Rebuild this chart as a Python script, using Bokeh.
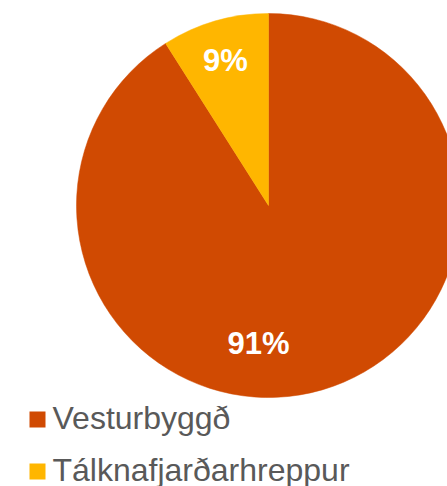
import math
from bokeh.plotting import figure
from bokeh.models import Range1d, ColumnDataSource
from bokeh.core.properties import value
from bokeh.embed import file_html
from bokeh.resources import INLINE

# ---- data ----
categories = ["Vesturbyggð", "Tálknafjarðarhreppur"]
shares = [91, 9]
labels = ["91%", "9%"]
colors = ["#D04A02", "#FFB600"]

# ---- layout (page pixel coords: data y = 486 - screen y) ----
W, H = 447, 486
def Y(sy):
    return H - sy

cx, cy, R = 268, Y(205), 192

p = figure(width=W, height=H, output_backend="svg", toolbar_location=None,
           x_range=Range1d(0, W), y_range=Range1d(0, H), min_border=0)
p.axis.visible = False
p.grid.visible = False
p.outline_line_color = None
p.background_fill_color = "white"
p.border_fill_color = "white"

total = float(sum(shares))
starts, ends = [], []
cum = 0.0
for v in shares:
    starts.append(math.pi / 2 - cum / total * 2 * math.pi)
    cum += v
    ends.append(math.pi / 2 - cum / total * 2 * math.pi)

src = ColumnDataSource(dict(start=starts, end=ends, color=colors, cat=categories))
p.wedge(x=cx, y=cy, radius=R, start_angle="start", end_angle="end",
        direction="clock", fill_color="color", line_color="color", line_width=0.5,
        source=src)

# data labels (screen offsets from centre, as in the reference)
label_offsets = [(-10, 138), (-43, -145)]
lx = [cx + dx for dx, dy in label_offsets]
ly = [cy - dy for dx, dy in label_offsets]
p.text(x=lx, y=ly, text=labels, text_color="white",
       text_font=value("Liberation Sans"), text_font_style="bold",
       text_font_size="31px", text_align="center", text_baseline="middle")

# legend drawn manually
sq_y = [Y(419), Y(471)]
txt_y = [Y(417), Y(469)]
p.scatter(x=[37] * len(categories), y=sq_y, marker="square",
          size=16, fill_color=colors, line_color=None)
p.text(x=[52] * len(categories), y=txt_y, text=categories, text_color="#595959",
       text_font=value("Liberation Sans"), text_font_size="32px",
       text_align="left", text_baseline="middle")

open("out.html", "w").write(file_html(p, INLINE))
